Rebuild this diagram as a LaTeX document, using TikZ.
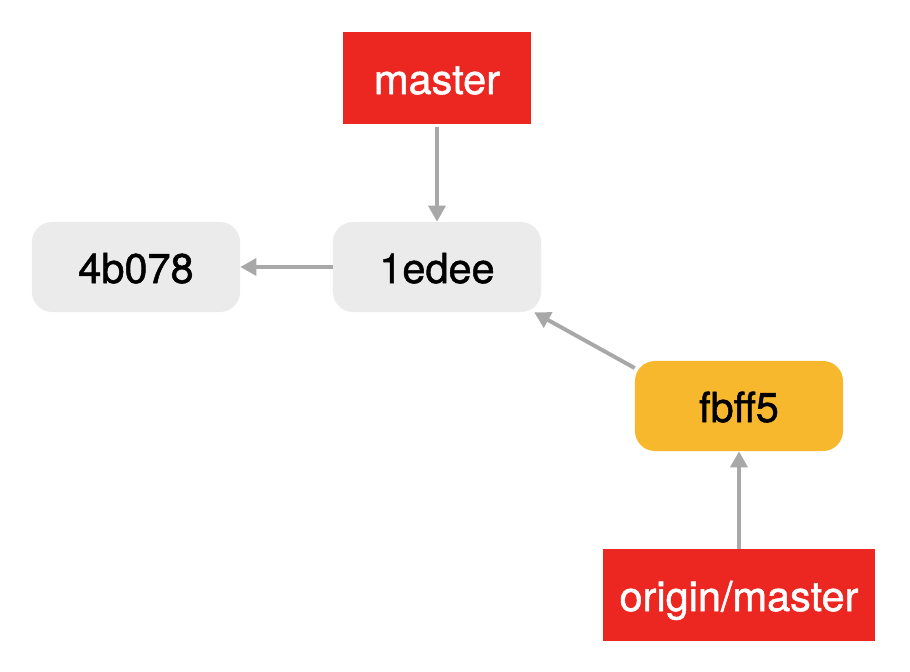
\documentclass[tikz,border=0pt]{standalone}
\usepackage{fontspec}
\setmainfont[FakeBold=1.2]{TeX Gyre Heros}
\usetikzlibrary{arrows.meta}
\definecolor{branchred}{HTML}{EC2722}
\definecolor{commitgray}{HTML}{EBEBEB}
\definecolor{headorange}{HTML}{F7B82D}
\definecolor{linkgray}{HTML}{A8A8A8}
\tikzset{
label/.style={font=\fontsize{29.5}{34}\selectfont, text height=0.8cm, text depth=0cm},
commit/.style={label, fill=commitgray, rounded corners=0.5cm, minimum width=5.2cm, minimum height=2.25cm, text=black},
branch/.style={label, fill=branchred, minimum height=2.3cm, inner xsep=0.35cm, text=white},
link/.style={draw=linkgray, line width=2.8pt, -{Triangle[length=0.4cm,width=0.42cm]}}
}
\begin{document}
\begin{tikzpicture}[x=0.025cm,y=-0.025cm]
  \useasboundingbox (0,0) rectangle (910,672);
  \node[branch, minimum width=4.7cm] (master) at (437,78) {master};
  \node[commit] (c4b078) at (136,267) {4b078};
  \node[commit] (c1edee) at (437,267) {1edee};
  \node[commit, fill=headorange] (cfbff5) at (739,406) {fbff5};
  \node[branch, minimum width=6.8cm] (origin) at (739,595) {origin/master};
  \draw[link, shorten <=0.075cm] (master) -- (c1edee);
  \draw[link] (c1edee) -- (c4b078);
  \draw[link] (cfbff5.160) -- (c1edee.-25);
  \draw[link] (origin) -- (cfbff5);
\end{tikzpicture}
\end{document}
